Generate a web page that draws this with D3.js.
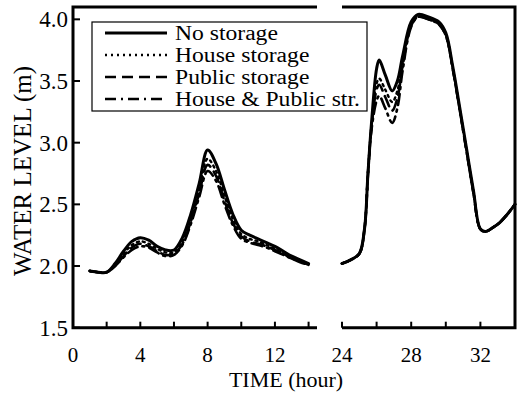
<!DOCTYPE html>
<html>
<head>
<meta charset="utf-8">
<script src="https://cdn.jsdelivr.net/npm/d3@7"></script>
<style>
  body { margin: 0; background: #fff; }
  text { font-family: "Liberation Serif", "Times New Roman", serif; fill: #000; }
</style>
</head>
<body>
<div id="chart"></div>
<script>
// data
var seriesNames = ["No storage", "House storage", "Public storage", "House & Public str."];

var leftHours = [1, 1.5, 2, 2.5, 3, 3.5, 4, 4.5, 5, 5.5, 6, 6.5, 7, 7.5, 8, 8.5, 9, 9.5, 10, 10.5, 11, 11.5, 12, 12.5, 13, 13.5, 14];
var noStorageLeft = [1.96, 1.95, 1.95, 2.02, 2.12, 2.20, 2.23, 2.21, 2.16, 2.13, 2.13, 2.23, 2.42, 2.67, 2.94, 2.83, 2.62, 2.42, 2.29, 2.25, 2.22, 2.19, 2.16, 2.12, 2.08, 2.05, 2.02];
var houseLeft = [1.96, 1.95, 1.95, 2.01, 2.10, 2.17, 2.20, 2.18, 2.14, 2.11, 2.11, 2.20, 2.38, 2.62, 2.87, 2.77, 2.57, 2.38, 2.26, 2.22, 2.20, 2.17, 2.14, 2.10, 2.07, 2.04, 2.01];
var publicLeft = [1.96, 1.95, 1.95, 2.00, 2.08, 2.15, 2.18, 2.16, 2.12, 2.09, 2.10, 2.18, 2.36, 2.59, 2.82, 2.73, 2.53, 2.35, 2.24, 2.20, 2.18, 2.16, 2.13, 2.10, 2.06, 2.04, 2.01];
var bothLeft = [1.96, 1.95, 1.95, 2.00, 2.07, 2.13, 2.16, 2.15, 2.11, 2.08, 2.09, 2.17, 2.34, 2.56, 2.77, 2.69, 2.50, 2.33, 2.22, 2.19, 2.17, 2.15, 2.12, 2.09, 2.06, 2.03, 2.01];

var rightHours = [24, 24.5, 25, 25.3, 25.5, 25.7, 26, 26.15, 26.5, 26.9, 27.2, 27.5, 28, 28.4, 29, 29.6, 30, 30.4, 30.8, 31.2, 31.6, 32, 32.3, 32.7, 33.1, 33.5, 34];
var noStorageRight = [2.02, 2.05, 2.10, 2.30, 2.75, 3.15, 3.60, 3.67, 3.55, 3.42, 3.50, 3.70, 3.98, 4.04, 4.02, 3.98, 3.89, 3.62, 3.29, 2.95, 2.61, 2.30, 2.28, 2.31, 2.35, 2.41, 2.50];
var houseRight = [2.02, 2.05, 2.10, 2.30, 2.75, 3.13, 3.48, 3.52, 3.43, 3.33, 3.42, 3.65, 3.96, 4.03, 4.01, 3.97, 3.88, 3.61, 3.28, 2.94, 2.60, 2.30, 2.28, 2.31, 2.35, 2.41, 2.50];
var publicRight = [2.02, 2.05, 2.10, 2.30, 2.75, 3.12, 3.43, 3.47, 3.37, 3.26, 3.36, 3.62, 3.95, 4.02, 4.00, 3.96, 3.87, 3.60, 3.27, 2.93, 2.59, 2.30, 2.28, 2.31, 2.35, 2.41, 2.50];
var bothRight = [2.02, 2.05, 2.10, 2.30, 2.74, 3.10, 3.34, 3.38, 3.28, 3.16, 3.28, 3.58, 3.94, 4.02, 4.00, 3.96, 3.87, 3.60, 3.27, 2.93, 2.59, 2.30, 2.28, 2.31, 2.35, 2.41, 2.50];

var yTicks = [1.5, 2.0, 2.5, 3.0, 3.5, 4.0];
var leftMinorTicks = [2, 4, 6, 8, 10, 12, 14];
var leftLabels = [0, 4, 8, 12];
var rightMinorTicks = [24, 26, 28, 30, 32];
var rightLabels = [24, 28, 32];

// dimensions
var svgWidth = 521;
var svgHeight = 396;
var plotTop = 7;
var plotBottom = 327.7;

var svg = d3.select("#chart")
  .append("svg")
  .attr("width", svgWidth)
  .attr("height", svgHeight);

// scales
var y = d3.scaleLinear().domain([1.5, 4.1]).range([plotBottom, plotTop]);
var xLeft = d3.scaleLinear().domain([0, 14.5]).range([73, 317]);
var xRight = d3.scaleLinear().domain([24, 34]).range([342, 515]);

// line styles per series
var styles = [
  { width: 3, dash: null },
  { width: 2.4, dash: "2,4" },
  { width: 2.6, dash: "11,6" },
  { width: 2.6, dash: "11,5,2,5" }
];

var leftSeries = [noStorageLeft, houseLeft, publicLeft, bothLeft];
var rightSeries = [noStorageRight, houseRight, publicRight, bothRight];

function drawCurves(hours, seriesList, xScale) {
  var line = d3.line()
    .x(function (d) { return xScale(d[0]); })
    .y(function (d) { return y(d[1]); })
    .curve(d3.curveCatmullRom.alpha(0.5));

  // draw solid last so it sits on top
  [3, 2, 1, 0].forEach(function (i) {
    var pts = hours.map(function (h, j) { return [h, seriesList[i][j]]; });
    svg.append("path")
      .attr("d", line(pts))
      .attr("fill", "none")
      .attr("stroke", "#000")
      .attr("stroke-width", styles[i].width)
      .attr("stroke-dasharray", styles[i].dash)
      .attr("stroke-linecap", "round");
  });
}

drawCurves(leftHours, leftSeries, xLeft);
drawCurves(rightHours, rightSeries, xRight);

// frame (broken between the two panels)
var frame = svg.append("g")
  .attr("stroke", "#000")
  .attr("stroke-width", 3)
  .attr("fill", "none");

frame.append("path")
  .attr("d", "M" + xLeft(14.5) + "," + y(4.1) + "H" + xLeft(0) + "V" + y(1.5) + "H" + xLeft(14.5));
frame.append("path")
  .attr("d", "M" + xRight(24) + "," + y(4.1) + "H" + xRight(34) + "V" + y(1.5) + "H" + xRight(24));

// y ticks (inward)
svg.append("g").selectAll("line")
  .data(yTicks)
  .enter()
  .append("line")
  .attr("x1", xLeft(0))
  .attr("x2", xLeft(0) + 7)
  .attr("y1", function (d) { return y(d); })
  .attr("y2", function (d) { return y(d); })
  .attr("stroke", "#000")
  .attr("stroke-width", 2);

svg.append("g").selectAll("text")
  .data(yTicks)
  .enter()
  .append("text")
  .attr("x", 68)
  .attr("y", function (d) { return y(d); })
  .attr("dy", "0.35em")
  .attr("text-anchor", "end")
  .style("font-size", "23px")
  .text(function (d) { return d.toFixed(1); });

// x ticks (inward)
function xTicks(scale, minor, labels) {
  svg.append("g").selectAll("line")
    .data(minor)
    .enter()
    .append("line")
    .attr("x1", function (d) { return scale(d); })
    .attr("x2", function (d) { return scale(d); })
    .attr("y1", plotBottom)
    .attr("y2", plotBottom - 6)
    .attr("stroke", "#000")
    .attr("stroke-width", 2);

  svg.append("g").selectAll("text")
    .data(labels)
    .enter()
    .append("text")
    .attr("x", function (d) { return scale(d); })
    .attr("y", 362)
    .attr("text-anchor", "middle")
    .style("font-size", "21px")
    .text(function (d) { return d; });
}

xTicks(xLeft, leftMinorTicks, leftLabels);
xTicks(xRight, rightMinorTicks, rightLabels);

// axis titles
svg.append("text")
  .attr("x", 286)
  .attr("y", 387)
  .attr("text-anchor", "middle")
  .style("font-size", "22px")
  .text("TIME (hour)");

svg.append("text")
  .attr("transform", "translate(31,171) rotate(-90)")
  .attr("text-anchor", "middle")
  .style("font-size", "25px")
  .text("WATER LEVEL (m)");

// legend
var legend = svg.append("g");
legend.append("rect")
  .attr("x", 92)
  .attr("y", 22)
  .attr("width", 275)
  .attr("height", 89)
  .attr("fill", "#fff")
  .attr("stroke", "#000")
  .attr("stroke-width", 1.2);

var rowY = [33, 55, 77, 99];
seriesNames.forEach(function (name, i) {
  legend.append("line")
    .attr("x1", 105)
    .attr("x2", 167)
    .attr("y1", rowY[i])
    .attr("y2", rowY[i])
    .attr("stroke", "#000")
    .attr("stroke-width", styles[i].width)
    .attr("stroke-dasharray", styles[i].dash);
  var t = legend.append("text")
    .attr("x", 175)
    .attr("y", rowY[i])
    .attr("dy", "0.35em")
    .style("font-size", "20px")
    .text(name);
  // the scanned legend lettering is set a little wider
  var w = t.node().getComputedTextLength();
  t.attr("textLength", w * 1.18).attr("lengthAdjust", "spacingAndGlyphs");
});
</script>
</body>
</html>
